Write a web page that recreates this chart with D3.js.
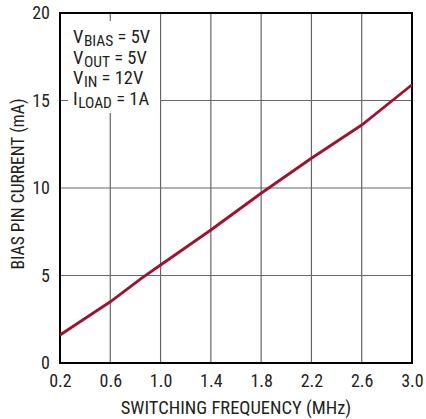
<!DOCTYPE html>
<html><head><meta charset="utf-8">
<script src="https://cdn.jsdelivr.net/npm/d3@7"></script>
<style>
body{margin:0;background:#fff;}
text{font-family:"Liberation Sans Narrow","Roboto Condensed","Liberation Sans",sans-serif;fill:#231f20;}
</style></head><body>
<svg id="c" width="426" height="419"></svg>
<script>
const freq = [0.2, 0.6, 0.85, 1.0, 1.4, 1.8, 2.2, 2.6, 3.0];
const current = [1.6, 3.5, 4.85, 5.6, 7.6, 9.7, 11.7, 13.6, 15.9];
const xTicks = [0.2, 0.6, 1.0, 1.4, 1.8, 2.2, 2.6, 3.0];
const yTicks = [0, 5, 10, 15, 20];
const legendLines = [["V","BIAS"," = 5V"],["V","OUT"," = 5V"],["V","IN"," = 12V"],["I","LOAD"," = 1A"]];

const svg = d3.select("#c");
const L=60, R=412, T=13, B=363;
const x = d3.scaleLinear().domain([0.2,3.0]).range([L,R]);
const y = d3.scaleLinear().domain([0,20]).range([B,T]);

// grid
svg.append("g").selectAll("line").data(xTicks.slice(1,-1)).join("line")
  .attr("x1",d=>x(d)).attr("x2",d=>x(d)).attr("y1",T).attr("y2",B)
  .attr("stroke","#666").attr("stroke-width",1.2);
svg.append("g").selectAll("line").data(yTicks.slice(1,-1)).join("line")
  .attr("y1",d=>y(d)).attr("y2",d=>y(d)).attr("x1",L).attr("x2",R)
  .attr("stroke","#666").attr("stroke-width",1.2);

// legend background
const lg = svg.append("g");
lg.append("rect").attr("x",68).attr("y",21).attr("width",92).attr("height",92).attr("fill","#fff");
legendLines.forEach((l,i)=>{
  const t = lg.append("text").attr("x",73).attr("y",43+i*20.7).attr("font-size",18.5);
  t.append("tspan").text(l[0]);
  t.append("tspan").attr("font-size",15.5).attr("dy",3).attr("dx",0.5).text(l[1]);
  t.append("tspan").attr("dy",-3).text(l[2]);
});

// frame
svg.append("rect").attr("x",L).attr("y",T).attr("width",R-L).attr("height",B-T)
  .attr("fill","none").attr("stroke","#000").attr("stroke-width",2);

// axes labels
const xAxis = d3.axisBottom(x).tickValues(xTicks).tickFormat(d3.format(".1f")).tickSize(0).tickPadding(11);
const gx = svg.append("g").attr("transform",`translate(0,${B})`).call(xAxis);
gx.select(".domain").remove();
gx.selectAll("text").attr("font-size",18).attr("fill","#231f20").attr("font-family",null);

const yAxis = d3.axisLeft(y).tickValues(yTicks).tickSize(0).tickPadding(10);
const gy = svg.append("g").attr("transform",`translate(${L},0)`).call(yAxis);
gy.select(".domain").remove();
gy.selectAll("text").attr("font-size",18).attr("fill","#231f20").attr("font-family",null);

svg.append("text").attr("x",236).attr("y",414).attr("text-anchor","middle").attr("font-size",18.5)
  .text("SWITCHING FREQUENCY (MHz)");
svg.append("text").attr("transform",`translate(24,184) rotate(-90)`).attr("text-anchor","middle").attr("font-size",17.5)
  .text("BIAS PIN CURRENT (mA)");

// data line
const line = d3.line().x((d,i)=>x(freq[i])).y(d=>y(d));
svg.append("path").datum(current).attr("d",line).attr("fill","none")
  .attr("stroke","#a0112f").attr("stroke-width",2.8);
</script></body></html>
